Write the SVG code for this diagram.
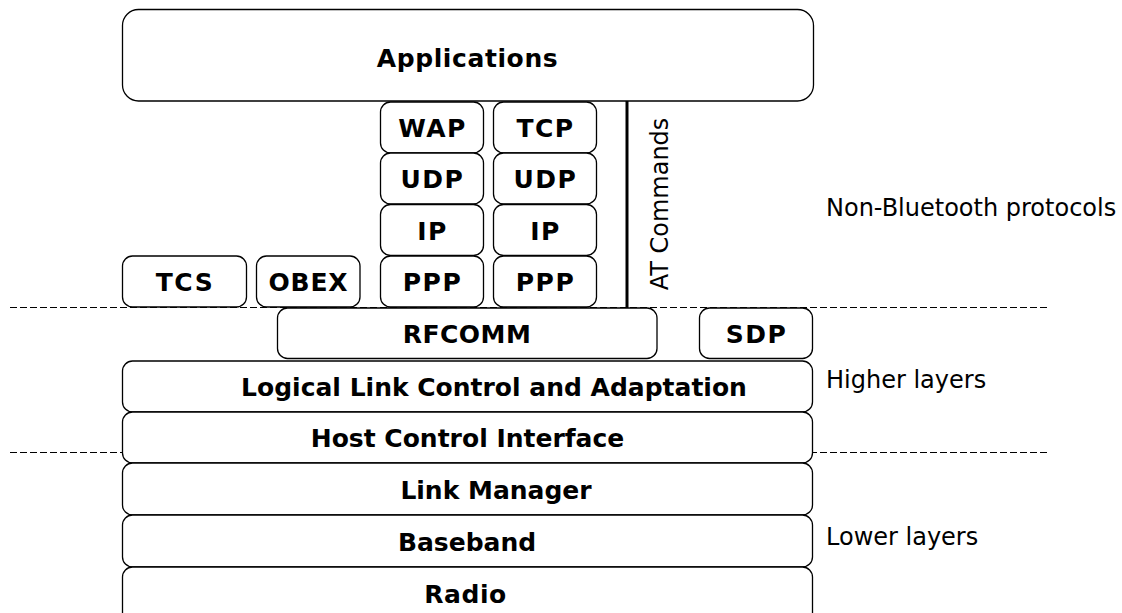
<svg xmlns="http://www.w3.org/2000/svg" width="1122" height="613" viewBox="0 0 1122 613">
  <style>
    .box { fill: #ffffff; stroke: #000000; stroke-width: 1.3; }
    .lbl { font-family: "DejaVu Sans", Verdana, sans-serif; font-weight: bold; font-size: 25px; text-anchor: middle; fill: #000000; }
    .cap { letter-spacing: 1.5px; }
    .side { font-family: "DejaVu Sans", Verdana, sans-serif; font-size: 24px; fill: #000000; }
    .divider { stroke: #000000; stroke-width: 1; stroke-dasharray: 7 3; fill: none; }
  </style>
  <rect width="1122" height="613" fill="#ffffff"/>

  <!-- layer dividers -->
  <g id="dividers">
    <line class="divider" x1="10" y1="307.5" x2="1049" y2="307.5"/>
    <line class="divider" x1="10" y1="452.5" x2="1049" y2="452.5"/>
  </g>

  <g id="applications">
    <rect class="box" x="122.5" y="9.5" width="691" height="91.5" rx="16"/>
    <text class="lbl" x="467.5" y="67" font-size="28" letter-spacing="0.6">Applications</text>
  </g>

  <!-- left IP stack -->
  <g id="wap">
    <rect class="box" x="380.5" y="102" width="103" height="51" rx="10"/>
    <text class="lbl cap" x="432.5" y="137">WAP</text>
  </g>
  <g id="udp1">
    <rect class="box" x="380.5" y="153" width="103" height="51" rx="10"/>
    <text class="lbl cap" x="432.5" y="188">UDP</text>
  </g>
  <g id="ip1">
    <rect class="box" x="380.5" y="204.5" width="103" height="51" rx="10"/>
    <text class="lbl cap" x="432.5" y="239.5">IP</text>
  </g>
  <g id="ppp1">
    <rect class="box" x="380.5" y="256" width="103" height="51" rx="10"/>
    <text class="lbl cap" x="432.5" y="291">PPP</text>
  </g>

  <!-- right IP stack -->
  <g id="tcp">
    <rect class="box" x="493.5" y="102" width="103" height="51" rx="10"/>
    <text class="lbl cap" x="545.5" y="137">TCP</text>
  </g>
  <g id="udp2">
    <rect class="box" x="493.5" y="153" width="103" height="51" rx="10"/>
    <text class="lbl cap" x="545.5" y="188">UDP</text>
  </g>
  <g id="ip2">
    <rect class="box" x="493.5" y="204.5" width="103" height="51" rx="10"/>
    <text class="lbl cap" x="545.5" y="239.5">IP</text>
  </g>
  <g id="ppp2">
    <rect class="box" x="493.5" y="256" width="103" height="51" rx="10"/>
    <text class="lbl cap" x="545.5" y="291">PPP</text>
  </g>

  <g id="tcs">
    <rect class="box" x="122.5" y="256" width="124" height="51" rx="10"/>
    <text class="lbl cap" x="185" y="291">TCS</text>
  </g>
  <g id="obex">
    <rect class="box" x="256.5" y="256" width="103.5" height="51" rx="10"/>
    <text class="lbl" x="308.5" y="291" letter-spacing="0.8">OBEX</text>
  </g>

  <!-- AT command path down to RFCOMM -->
  <g id="connectors">
    <line x1="627" y1="101" x2="627" y2="308" stroke="#000000" stroke-width="3"/>
  </g>
  <text class="side" font-size="21.5" transform="translate(668,204) rotate(-90)" text-anchor="middle">AT Commands</text>

  <g id="rfcomm">
    <rect class="box" x="277.5" y="308" width="379.5" height="50.5" rx="10"/>
    <text class="lbl" x="467" y="342.5" letter-spacing="0.5">RFCOMM</text>
  </g>
  <g id="sdp">
    <rect class="box" x="699.5" y="308" width="113" height="50.5" rx="10"/>
    <text class="lbl cap" x="756.5" y="342.5">SDP</text>
  </g>

  <g id="l2cap">
    <rect class="box" x="122.5" y="361" width="690" height="51" rx="10"/>
    <text class="lbl" x="494" y="396" font-size="24.4">Logical Link Control and Adaptation</text>
  </g>
  <g id="hci">
    <rect class="box" x="122.5" y="412" width="690" height="51" rx="10"/>
    <text class="lbl" x="467.5" y="447">Host Control Interface</text>
  </g>
  <g id="lm">
    <rect class="box" x="122.5" y="463" width="690" height="52" rx="10"/>
    <text class="lbl" x="496" y="498.5">Link Manager</text>
  </g>
  <g id="baseband">
    <rect class="box" x="122.5" y="515" width="690" height="52" rx="10"/>
    <text class="lbl" x="467" y="550.5">Baseband</text>
  </g>
  <g id="radio">
    <rect class="box" x="122.5" y="567" width="690" height="56" rx="10"/>
    <text class="lbl" x="465.5" y="602.5" letter-spacing="0.5">Radio</text>
  </g>

  <text class="side" x="826" y="216">Non-Bluetooth protocols</text>
  <text class="side" x="826" y="388">Higher layers</text>
  <text class="side" x="826" y="545">Lower layers</text>
</svg>
